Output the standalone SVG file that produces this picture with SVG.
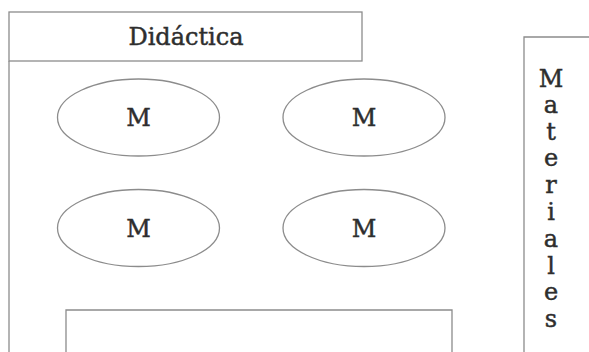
<svg xmlns="http://www.w3.org/2000/svg" width="589" height="352" viewBox="0 0 589 352">
<style>
.ln{fill:none;stroke:#8c8c8c;stroke-width:1.3}
.t{font-family:"DejaVu Serif","Liberation Serif",serif;font-size:24px;fill:#2e2e2e;stroke:#2e2e2e;stroke-width:0.45;text-anchor:middle}
</style>
<rect width="589" height="352" fill="#fff"/>
<g id="didactica">
<rect class="ln" x="9" y="12" width="353" height="49"/>
<text class="t" x="186" y="45">Didáctica</text>
</g>
<g id="marco">
<path class="ln" d="M9 61 V353"/>
</g>
<g id="m1">
<ellipse class="ln" cx="138.5" cy="117.5" rx="81" ry="38.5"/>
<text class="t" x="138.5" y="126">M</text>
</g>
<g id="m2">
<ellipse class="ln" cx="364" cy="117.5" rx="81" ry="38.5"/>
<text class="t" x="364" y="126">M</text>
</g>
<g id="m3">
<ellipse class="ln" cx="138.5" cy="228" rx="81" ry="38.5"/>
<text class="t" x="138.5" y="236.5">M</text>
</g>
<g id="m4">
<ellipse class="ln" cx="364" cy="228" rx="81" ry="38.5"/>
<text class="t" x="364" y="236.5">M</text>
</g>
<g id="inferior">
<path class="ln" d="M66 353 V310 H452 V353"/>
</g>
<g id="materiales">
<path class="ln" d="M590 37 H524 V353"/>
<text class="t"><tspan x="551" y="87">M</tspan><tspan x="551" y="113">a</tspan><tspan x="551" y="140">t</tspan><tspan x="551" y="166">e</tspan><tspan x="551" y="193">r</tspan><tspan x="551" y="220">i</tspan><tspan x="551" y="247">a</tspan><tspan x="551" y="274">l</tspan><tspan x="551" y="300">e</tspan><tspan x="551" y="327">s</tspan></text>
</g>
<g id="connectors"></g>
</svg>
